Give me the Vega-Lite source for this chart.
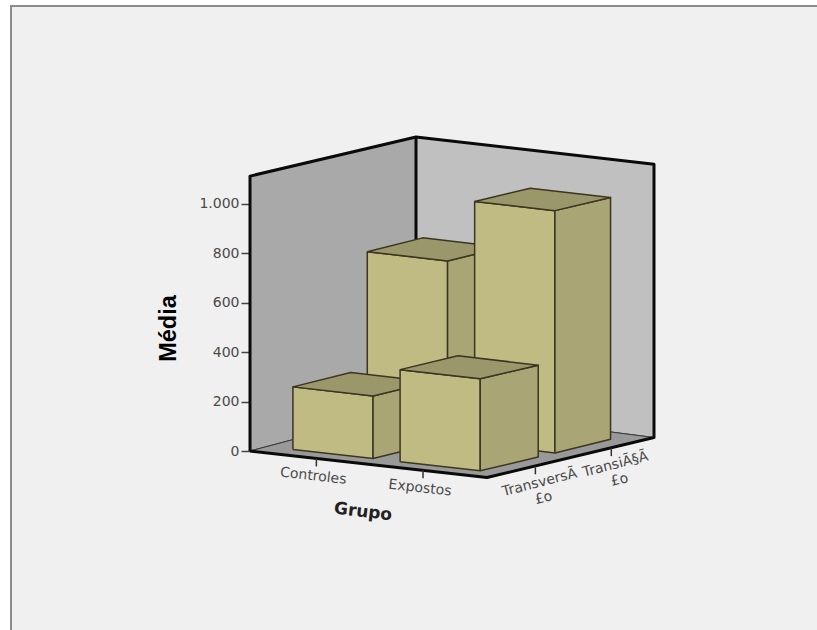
{
  "$schema": "https://vega.github.io/schema/vega-lite/v6.json",
  "autosize": "none",
  "width": 811,
  "height": 629,
  "padding": {"left": 11, "top": 6, "right": -5, "bottom": -5},
  "background": "#ffffff",
  "view": {"fill": "#f0f0f0", "stroke": "#8c8c8c", "strokeWidth": 2},
  "config": {"font": "DejaVu Sans"},
  "datasets": {
    "medias": [
      {"grupo": "Controles", "tipo": "Transição", "media": 730},
      {"grupo": "Expostos", "tipo": "Transição", "media": 985},
      {"grupo": "Controles", "tipo": "Transversão", "media": 254},
      {"grupo": "Expostos", "tipo": "Transversão", "media": 373}
    ],
    "caixa": [
      {"peca": "parede_esquerda", "ordem": 0, "u": 0, "v": 0, "h": 0},
      {"peca": "parede_esquerda", "ordem": 1, "u": 0, "v": 1, "h": 0},
      {"peca": "parede_esquerda", "ordem": 2, "u": 0, "v": 1, "h": 1113},
      {"peca": "parede_esquerda", "ordem": 3, "u": 0, "v": 0, "h": 1113},
      {"peca": "parede_esquerda", "ordem": 4, "u": 0, "v": 0, "h": 0},
      {"peca": "parede_fundo", "ordem": 0, "u": 0, "v": 1, "h": 0},
      {"peca": "parede_fundo", "ordem": 1, "u": 1, "v": 1, "h": 0},
      {"peca": "parede_fundo", "ordem": 2, "u": 1, "v": 1, "h": 1113},
      {"peca": "parede_fundo", "ordem": 3, "u": 0, "v": 1, "h": 1113},
      {"peca": "parede_fundo", "ordem": 4, "u": 0, "v": 1, "h": 0},
      {"peca": "chao", "ordem": 0, "u": 0, "v": 0, "h": 0},
      {"peca": "chao", "ordem": 1, "u": 1, "v": 0, "h": 0},
      {"peca": "chao", "ordem": 2, "u": 1, "v": 1, "h": 0},
      {"peca": "chao", "ordem": 3, "u": 0, "v": 1, "h": 0},
      {"peca": "chao", "ordem": 4, "u": 0, "v": 0, "h": 0}
    ],
    "arestas": [
      {"aresta": "contorno", "ordem": 0, "u": 0, "v": 0, "h": 0},
      {"aresta": "contorno", "ordem": 1, "u": 0, "v": 0, "h": 1113},
      {"aresta": "contorno", "ordem": 2, "u": 0, "v": 1, "h": 1113},
      {"aresta": "contorno", "ordem": 3, "u": 1, "v": 1, "h": 1113},
      {"aresta": "contorno", "ordem": 4, "u": 1, "v": 1, "h": 0},
      {"aresta": "contorno", "ordem": 5, "u": 1, "v": 0, "h": 0},
      {"aresta": "contorno", "ordem": 6, "u": 0, "v": 0, "h": 0},
      {"aresta": "canto_fundo", "ordem": 0, "u": 0, "v": 1, "h": 0},
      {"aresta": "canto_fundo", "ordem": 1, "u": 0, "v": 1, "h": 1113}
    ],
    "rotulos_grupo": [
      {"rotulo": "Controles", "u": 0.28, "v": 0, "h": 0},
      {"rotulo": "Expostos", "u": 0.73, "v": 0, "h": 0}
    ],
    "rotulos_tipo": [
      {"rotulo": "TransversÃ\n£o", "u": 1, "v": 0.28, "h": 0},
      {"rotulo": "TransiÃ§Ã\n£o", "u": 1, "v": 0.735, "h": 0}
    ],
    "titulo_grupo": [
      {"rotulo": "Grupo", "u": 0.5, "v": 0, "h": 0}
    ]
  },
  "resolve": {"scale": {"y": "independent"}},
  "layer": [
    {
      "data": {"name": "caixa"},
      "transform": [
        {"calculate": "250 + 237*datum.u + 166*datum.v + datum.u*datum.v + 8*datum.v*(1 - datum.v)", "as": "x_tela"},
        {"calculate": "451 + 26.5*datum.u - 44*datum.v + 4*datum.u*datum.v - 0.247*datum.h*(1 - 0.018*datum.v + 0.012*datum.u*datum.v)", "as": "y_tela"}
      ],
      "mark": {"type": "line", "stroke": "#3a3a3a", "strokeWidth": 1},
      "encoding": {
        "x": {"field": "x_tela", "type": "quantitative", "scale": {"domain": [11, 822], "nice": false, "zero": false}, "axis": null},
        "y": {"field": "y_tela", "type": "quantitative", "scale": {"domain": [635, 6], "nice": false, "zero": false}, "axis": null},
        "order": {"field": "ordem", "type": "ordinal"},
        "detail": {"field": "peca"},
        "fill": {
          "field": "peca",
          "type": "nominal",
          "legend": null,
          "scale": {
            "domain": ["parede_esquerda", "parede_fundo", "chao", "frente", "lateral", "topo"],
            "range": ["#a9a9a9", "#c0c0c0", "#999999", "#c0bb83", "#a9a574", "#9a976b"]
          }
        }
      }
    },
    {
      "data": {"name": "arestas"},
      "transform": [
        {"calculate": "250 + 237*datum.u + 166*datum.v + datum.u*datum.v + 8*datum.v*(1 - datum.v)", "as": "x_tela"},
        {"calculate": "451 + 26.5*datum.u - 44*datum.v + 4*datum.u*datum.v - 0.247*datum.h*(1 - 0.018*datum.v + 0.012*datum.u*datum.v)", "as": "y_tela"}
      ],
      "mark": {"type": "line", "stroke": "#0a0a0a", "strokeWidth": 3, "strokeJoin": "round"},
      "encoding": {
        "x": {"field": "x_tela", "type": "quantitative", "axis": null},
        "y": {"field": "y_tela", "type": "quantitative", "scale": {"domain": [635, 6], "nice": false, "zero": false}, "axis": null},
        "order": {"field": "ordem", "type": "ordinal"},
        "detail": {"field": "aresta"}
      }
    },
    {
      "data": {"name": "medias"},
      "transform": [
        {"calculate": "datum.grupo === 'Controles' ? 0.108 : 0.56", "as": "u0"},
        {"calculate": "datum.tipo === 'Transversão' ? 0.10 : 0.54", "as": "v0"},
        {"calculate": "[{f:'frente',o:0,a:0,b:0,t:0},{f:'frente',o:1,a:1,b:0,t:0},{f:'frente',o:2,a:1,b:0,t:1},{f:'frente',o:3,a:0,b:0,t:1},{f:'frente',o:4,a:0,b:0,t:0},{f:'lateral',o:0,a:1,b:0,t:0},{f:'lateral',o:1,a:1,b:1,t:0},{f:'lateral',o:2,a:1,b:1,t:1},{f:'lateral',o:3,a:1,b:0,t:1},{f:'lateral',o:4,a:1,b:0,t:0},{f:'topo',o:0,a:0,b:0,t:1},{f:'topo',o:1,a:1,b:0,t:1},{f:'topo',o:2,a:1,b:1,t:1},{f:'topo',o:3,a:0,b:1,t:1},{f:'topo',o:4,a:0,b:0,t:1}]", "as": "cantos"},
        {"flatten": ["cantos"], "as": ["canto"]},
        {"calculate": "datum.canto.f", "as": "face"},
        {"calculate": "datum.canto.o", "as": "ordem"},
        {"calculate": "datum.grupo + '/' + datum.tipo + '/' + datum.canto.f", "as": "peca"},
        {"calculate": "datum.u0 + 0.338*datum.canto.a", "as": "u"},
        {"calculate": "datum.v0 + 0.34*datum.canto.b", "as": "v"},
        {"calculate": "datum.media*datum.canto.t", "as": "h"},
        {"calculate": "250 + 237*datum.u + 166*datum.v + datum.u*datum.v + 8*datum.v*(1 - datum.v)", "as": "x_tela"},
        {"calculate": "451 + 26.5*datum.u - 44*datum.v + 4*datum.u*datum.v - 0.247*datum.h*(1 - 0.018*datum.v + 0.012*datum.u*datum.v)", "as": "y_tela"}
      ],
      "mark": {"type": "line", "stroke": "#3a3620", "strokeWidth": 1.5, "strokeJoin": "round"},
      "encoding": {
        "x": {"field": "x_tela", "type": "quantitative", "axis": null},
        "y": {"field": "y_tela", "type": "quantitative", "scale": {"domain": [635, 6], "nice": false, "zero": false}, "axis": null},
        "order": {"field": "ordem", "type": "ordinal"},
        "detail": {"field": "peca"},
        "fill": {"field": "face", "type": "nominal", "legend": null}
      }
    },
    {
      "data": {"name": "rotulos_grupo"},
      "transform": [
        {"calculate": "250 + 237*datum.u + 166*datum.v + datum.u*datum.v + 8*datum.v*(1 - datum.v)", "as": "x_tela"},
        {"calculate": "451 + 26.5*datum.u - 44*datum.v + 4*datum.u*datum.v", "as": "y_tela"},
        {"calculate": "datum.y_tela + 8", "as": "y_fim"}
      ],
      "mark": {"type": "rule", "stroke": "#333333", "strokeWidth": 1.5},
      "encoding": {
        "x": {"field": "x_tela", "type": "quantitative", "axis": null},
        "y": {"field": "y_tela", "type": "quantitative", "scale": {"domain": [635, 6], "nice": false, "zero": false}, "axis": null},
        "y2": {"field": "y_fim"}
      }
    },
    {
      "data": {"name": "rotulos_grupo"},
      "transform": [
        {"calculate": "250 + 237*datum.u + 166*datum.v + datum.u*datum.v + 8*datum.v*(1 - datum.v)", "as": "x_tela"},
        {"calculate": "451 + 26.5*datum.u - 44*datum.v + 4*datum.u*datum.v", "as": "y_tela"}
      ],
      "mark": {"type": "text", "fontSize": 14, "fill": "#4a4a4a", "angle": 6.5, "dx": -1, "dy": 18, "align": "center", "baseline": "middle"},
      "encoding": {
        "x": {"field": "x_tela", "type": "quantitative", "axis": null},
        "y": {"field": "y_tela", "type": "quantitative", "scale": {"domain": [635, 6], "nice": false, "zero": false}, "axis": null},
        "text": {"field": "rotulo"}
      }
    },
    {
      "data": {"name": "rotulos_tipo"},
      "transform": [
        {"calculate": "250 + 237*datum.u + 166*datum.v + datum.u*datum.v + 8*datum.v*(1 - datum.v)", "as": "x_tela"},
        {"calculate": "451 + 26.5*datum.u - 44*datum.v + 4*datum.u*datum.v", "as": "y_tela"},
        {"calculate": "datum.y_tela + 8", "as": "y_fim"}
      ],
      "mark": {"type": "rule", "stroke": "#333333", "strokeWidth": 1.5},
      "encoding": {
        "x": {"field": "x_tela", "type": "quantitative", "axis": null},
        "y": {"field": "y_tela", "type": "quantitative", "scale": {"domain": [635, 6], "nice": false, "zero": false}, "axis": null},
        "y2": {"field": "y_fim"}
      }
    },
    {
      "data": {"name": "rotulos_tipo"},
      "transform": [
        {"calculate": "250 + 237*datum.u + 166*datum.v + datum.u*datum.v + 8*datum.v*(1 - datum.v)", "as": "x_tela"},
        {"calculate": "451 + 26.5*datum.u - 44*datum.v + 4*datum.u*datum.v", "as": "y_tela"}
      ],
      "mark": {"type": "text", "fontSize": 14, "fill": "#4a4a4a", "angle": -14.5, "dx": 0, "dy": 17, "align": "center", "baseline": "middle", "lineBreak": "\n", "lineHeight": 16},
      "encoding": {
        "x": {"field": "x_tela", "type": "quantitative", "axis": null},
        "y": {"field": "y_tela", "type": "quantitative", "scale": {"domain": [635, 6], "nice": false, "zero": false}, "axis": null},
        "text": {"field": "rotulo"}
      }
    },
    {
      "data": {"name": "titulo_grupo"},
      "transform": [
        {"calculate": "250 + 237*datum.u + 166*datum.v + datum.u*datum.v + 8*datum.v*(1 - datum.v)", "as": "x_tela"},
        {"calculate": "451 + 26.5*datum.u - 44*datum.v + 4*datum.u*datum.v", "as": "y_tela"}
      ],
      "mark": {"type": "text", "fontSize": 17, "fontWeight": "bold", "fill": "#222222", "angle": 6.5, "dx": 0, "dy": 48, "align": "center", "baseline": "middle"},
      "encoding": {
        "x": {"field": "x_tela", "type": "quantitative", "axis": null},
        "y": {"field": "y_tela", "type": "quantitative", "scale": {"domain": [635, 6], "nice": false, "zero": false}, "axis": null},
        "text": {"field": "rotulo"}
      }
    },
    {
      "data": {"name": "medias"},
      "mark": {"type": "point", "opacity": 0},
      "encoding": {
        "y": {
          "field": "media",
          "type": "quantitative",
          "scale": {"domain": [-744.9, 1801.6], "nice": false, "zero": false},
          "axis": {
            "orient": "left",
            "offset": -239,
            "values": [0, 200, 400, 600, 800, 1000],
            "labelExpr": "replace(format(datum.value, ','), ',', '.')",
            "grid": false,
            "domain": false,
            "tickSize": 9,
            "tickWidth": 1.5,
            "tickColor": "#444444",
            "labelFontSize": 14,
            "labelColor": "#4a4a4a",
            "labelPadding": 2,
            "title": "Média",
            "titleFont": "Liberation Sans",
            "titleFontSize": 23.5,
            "titleFontWeight": "bold",
            "titleColor": "#000000",
            "titleX": -82,
            "titleY": 322,
            "titleBaseline": "middle",
            "titleAlign": "center"
          }
        }
      }
    }
  ]
}
